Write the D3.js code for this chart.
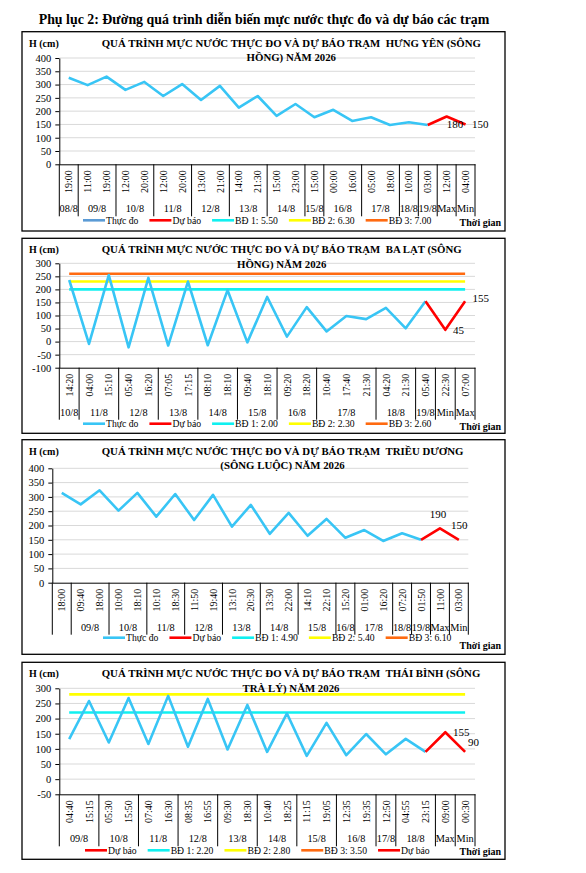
<!DOCTYPE html>
<html><head><meta charset="utf-8">
<script src="https://cdn.jsdelivr.net/npm/d3@7"></script>
<style>body{margin:0;background:#fff}svg{display:block}svg text{font-family:'Liberation Serif','Times New Roman',serif}</style>
</head><body><svg id="c" width="586" height="873"></svg>
<script>
// ---------------- DATA ----------------
const mainTitle = "Phụ lục 2: Đường quá trình diễn biến mực nước thực đo và dự báo các trạm";

// Hưng Yên
const hyTitle = ["QUÁ TRÌNH MỰC NƯỚC THỰC ĐO VÀ DỰ BÁO TRẠM  HƯNG YÊN (SÔNG", "HỒNG) NĂM 2026"];
const hyTimes = ["19:00","11:00","19:00","12:00","20:00","12:00","20:00","13:00","21:00","14:00","21:30","15:00","23:00","15:00","00:00","16:00","05:00","18:00","10:00","03:00","12:00","04:00"];
const hyDates = ["08/8","09/8","09/8","10/8","10/8","11/8","11/8","12/8","12/8","13/8","13/8","14/8","14/8","15/8","16/8","16/8","17/8","17/8","18/8","19/8","Max","Min"];
const hyObserved = [326,298,330,280,310,257,302,242,295,213,257,182,227,177,205,163,177,148,158,148,null,null];
const hyForecast = [null,null,null,null,null,null,null,null,null,null,null,null,null,null,null,null,null,null,null,148,180,150];
const hyAlarms = [5.50, 6.30, 7.00];
const hyTicks = [0,50,100,150,200,250,300,350,400];
const hyLegend = ["obs","fc","bd1","bd2","bd3"];

// Ba Lạt
const blTitle = ["QUÁ TRÌNH MỰC NƯỚC THỰC ĐO VÀ DỰ BÁO TRẠM  BA LẠT (SÔNG", "HỒNG) NĂM 2026"];
const blTimes = ["14:20","04:00","15:10","05:40","16:20","07:05","17:15","08:10","18:10","09:40","18:10","09:20","18:20","10:40","17:40","21:30","04:20","21:30","05:40","22:30","07:00"];
const blDates = ["10/8","11/8","11/8","12/8","12/8","13/8","13/8","14/8","14/8","15/8","15/8","16/8","16/8","17/8","17/8","17/8","18/8","18/8","19/8","Min","Max"];
const blObserved = [236,-9,255,-22,244,-15,230,-14,197,-3,171,19,132,39,98,86,129,51,155,null,null];
const blForecast = [null,null,null,null,null,null,null,null,null,null,null,null,null,null,null,null,null,null,155,45,155];
const blAlarms = [2.00, 2.30, 2.60];
const blTicks = [-100,-50,0,50,100,150,200,250,300];
const blLegend = ["obs","fc","bd1","bd2","bd3"];

// Triều Dương
const tdTitle = ["QUÁ TRÌNH MỰC NƯỚC THỰC ĐO VÀ DỰ BÁO TRẠM  TRIỀU DƯƠNG", "(SÔNG LUỘC) NĂM 2026"];
const tdTimes = ["18:00","09:40","18:00","10:00","18:10","10:10","18:30","11:50","19:40","13:10","20:30","13:30","22:00","14:10","22:10","15:20","01:00","16:20","07:20","01:50","11:00","03:00"];
const tdDates = ["","09/8","09/8","10/8","10/8","11/8","11/8","12/8","12/8","13/8","13/8","14/8","14/8","15/8","15/8","16/8","17/8","17/8","18/8","19/8","Max","Min"];
const tdObserved = [314,274,323,252,314,231,310,219,307,196,272,171,244,164,223,157,184,146,173,150,null,null];
const tdForecast = [null,null,null,null,null,null,null,null,null,null,null,null,null,null,null,null,null,null,null,150,190,150];
const tdAlarms = [4.90, 5.40, 6.10];
const tdTicks = [0,50,100,150,200,250,300,350,400];
const tdLegend = ["obs","fc","bd1","bd2","bd3"];

// Thái Bình
const tbTitle = ["QUÁ TRÌNH MỰC NƯỚC THỰC ĐO VÀ DỰ BÁO TRẠM  THÁI BÌNH (SÔNG", "TRÀ LÝ) NĂM 2026"];
const tbTimes = ["04:40","15:15","05:30","15:50","07:40","16:30","08:35","16:55","09:30","18:30","10:40","18:25","11:15","19:05","12:35","19:35","12:50","04:55","23:15","09:00","00:30"];
const tbDates = ["09/8","09/8","10/8","10/8","11/8","11/8","12/8","12/8","13/8","13/8","14/8","14/8","15/8","15/8","16/8","16/8","17/8","18/8","18/8","Max","Min"];
const tbObserved = [132,258,121,268,116,275,107,265,98,245,90,217,77,186,79,149,82,133,90,null,null];
const tbForecast = [null,null,null,null,null,null,null,null,null,null,null,null,null,null,null,null,null,null,90,155,90];
const tbAlarms = [2.20, 2.80, 3.50];
const tbTicks = [-50,0,50,100,150,200,250,300];
const tbLegend = ["fc","bd1","bd2","bd3","fc"];

// ---------------- STYLE / LAYOUT ----------------
const SERIF = "'Liberation Serif','Times New Roman',serif";
const C = {obs:"#38C5F5", fc:"#FF0000", bd1:"#10F0F0", bd2:"#FFFF00", bd3:"#FF6A10", grid:"#D9D9D9"};

const panels = [
  {title:hyTitle, times:hyTimes, dates:hyDates, obs:hyObserved, fc:hyForecast, alarms:hyAlarms, ticks:hyTicks, legend:hyLegend,
   box:[31.7,231], x:[59.3,475], top:58, axis:164.3, legX:83, legObsColor:"#5B9BD5", legDy:56, tgDy:62,
   labels:[{i:20,dx:0,dy:11.5,a:"start"},{i:21,dx:6.5,dy:3.7,a:"start"}]},
  {title:blTitle, times:blTimes, dates:blDates, obs:blObserved, fc:blForecast, alarms:blAlarms, ticks:blTicks, legend:blLegend,
   box:[238.3,433.3], x:[59.3,475], top:263.3, axis:367.7, legX:83, legObsColor:C.obs, legDy:56, tgDy:62,
   labels:[{i:19,dx:7.7,dy:3.7,a:"start"},{i:20,dx:7.5,dy:1.2,a:"start"}]},
  {title:tdTitle, times:tdTimes, dates:tdDates, obs:tdObserved, fc:tdForecast, alarms:tdAlarms, ticks:tdTicks, legend:tdLegend,
   box:[439.7,654.3], x:[52.3,468.3], top:468.3, axis:582.7, legX:103, legObsColor:C.obs, legDy:55, tgDy:66,
   labels:[{i:20,dx:-2,dy:-10.7,a:"middle"},{i:21,dx:0.5,dy:-10.5,a:"middle"}]},
  {title:tbTitle, times:tbTimes, dates:tbDates, obs:tbObserved, fc:tbForecast, alarms:tbAlarms, ticks:tbTicks, legend:tbLegend,
   box:[662.3,859.3], x:[59.3,475], top:688.3, axis:794.3, legX:85, legObsColor:C.obs, legDy:56, tgDy:61,
   labels:[{i:19,dx:7.7,dy:3.7,a:"start"},{i:20,dx:3,dy:-6,a:"start"}]}
];

const svg = d3.select("#c");

svg.append("text").attr("x",264).attr("y",24).attr("text-anchor","middle")
  .attr("font-family",SERIF).attr("font-weight","bold").attr("font-size",13.9).text(mainTitle);

function drawPanel(p){
  const g = svg.append("g");
  g.append("rect").attr("x",22).attr("y",p.box[0]).attr("width",483).attr("height",p.box[1]-p.box[0])
    .attr("fill","none").attr("stroke","#000").attr("stroke-width",1.3);

  const n = p.times.length;
  const x = d3.scaleBand().domain(d3.range(n)).range(p.x).padding(0);
  const bw = x.bandwidth();
  const cx = i => x(i) + bw/2;
  const y = d3.scaleLinear().domain([p.ticks[0], p.ticks[p.ticks.length-1]]).range([p.axis, p.top]);

  // gridlines
  g.append("g").selectAll("line").data(p.ticks.slice(1)).join("line")
    .attr("x1",p.x[0]).attr("x2",p.x[1]).attr("y1",d=>y(d)).attr("y2",d=>y(d))
    .attr("stroke",C.grid).attr("stroke-width",1);

  // y axis
  const ya = g.append("g").attr("transform",`translate(${p.x[0]},0)`)
    .call(d3.axisLeft(y).tickValues(p.ticks).tickSize(4).tickSizeOuter(0).tickPadding(4).tickFormat(d=>String(d)));
  ya.attr("font-family",SERIF).attr("font-size",10.5);
  ya.selectAll("path,line").attr("stroke","#000");
  ya.selectAll("text").attr("fill","#000");

  // x axis (time labels)
  const xa = g.append("g").attr("transform",`translate(0,${p.axis})`)
    .call(d3.axisBottom(x).tickSize(0).tickSizeOuter(0).tickFormat(i=>p.times[i]));
  xa.attr("font-family",SERIF).attr("font-size",10);
  xa.select(".domain").attr("stroke","#000").attr("stroke-width",1);
  xa.selectAll("text").attr("fill","#000").attr("y",null).attr("dy",null).attr("x",null)
    .attr("text-anchor","end").attr("transform","translate(3.6,6) rotate(-90)");

  // groups
  const groups = [];
  p.dates.forEach((d,i)=>{
    if(groups.length && groups[groups.length-1].label===d && i>0) groups[groups.length-1].end=i;
    else groups.push({label:d,start:i,end:i});
  });
  const sepY2 = p.axis+52;
  const bounds = [p.x[0]].concat(groups.map(gr=>x(gr.end)+bw));
  g.append("g").selectAll("line").data(bounds).join("line")
    .attr("x1",d=>d).attr("x2",d=>d).attr("y1",p.axis).attr("y2",sepY2)
    .attr("stroke","#000").attr("stroke-width",1);
  g.append("g").selectAll("text").data(groups).join("text")
    .attr("x",gr=>(x(gr.start)+x(gr.end)+bw)/2).attr("y",p.axis+48)
    .attr("text-anchor","middle").attr("font-family",SERIF).attr("font-size",10.3)
    .text(gr=>gr.label);

  // alarm lines
  const alarmKeys = ["bd1","bd2","bd3"];
  p.alarms.forEach((a,k)=>{
    const v = a*100;
    if(v>=p.ticks[0] && v<=p.ticks[p.ticks.length-1]){
      g.append("line").attr("x1",cx(0)).attr("x2",cx(n-1)).attr("y1",y(v)).attr("y2",y(v))
        .attr("stroke",C[alarmKeys[k]]).attr("stroke-width",2.6);
    }
  });

  const line = d3.line().defined(d=>d!=null).x((d,i)=>cx(i)).y(d=>y(d));
  g.append("path").datum(p.obs).attr("d",line).attr("fill","none").attr("stroke",C.obs)
    .attr("stroke-width",2.6).attr("stroke-linejoin","round");
  g.append("path").datum(p.fc).attr("d",line).attr("fill","none").attr("stroke",C.fc)
    .attr("stroke-width",2.6).attr("stroke-linejoin","round");

  // data labels
  g.append("g").selectAll("text").data(p.labels).join("text")
    .attr("x",l=>cx(l.i)+l.dx).attr("y",l=>y(p.fc[l.i])+l.dy).attr("text-anchor",l=>l.a)
    .attr("font-family",SERIF).attr("font-size",11).text(l=>p.fc[l.i]);

  // titles
  g.append("text").attr("x",29).attr("y",p.box[0]+15).attr("font-family",SERIF)
    .attr("font-weight","bold").attr("font-size",10).text("H (cm)");
  const t1 = g.append("text").attr("x",101.7).attr("y",p.box[0]+15).attr("font-family",SERIF)
    .attr("font-weight","bold").attr("font-size",10.8).style("white-space","pre").text(p.title[0]);
  const w1 = t1.node().getComputedTextLength();
  g.append("text").attr("x",101.7+w1/2).attr("y",p.box[0]+29.5).attr("text-anchor","middle").attr("font-family",SERIF)
    .attr("font-weight","bold").attr("font-size",10.8).text(p.title[1]);

  // legend
  const names = {obs:"Thực đo", fc:"Dự báo",
    bd1:"BĐ 1: "+p.alarms[0].toFixed(2), bd2:"BĐ 2: "+p.alarms[1].toFixed(2), bd3:"BĐ 3: "+p.alarms[2].toFixed(2)};
  let lx = p.legX; const ly = p.axis+p.legDy;
  p.legend.forEach(k=>{
    g.append("line").attr("x1",lx).attr("x2",lx+22).attr("y1",ly).attr("y2",ly)
      .attr("stroke", k==="obs"? p.legObsColor : C[k]).attr("stroke-width",2.6);
    const t = g.append("text").attr("x",lx+23).attr("y",ly+3.5).attr("font-family",SERIF)
      .attr("font-size",9.7).text(names[k]);
    lx += 23 + t.node().getComputedTextLength() + 11;
  });
  g.append("text").attr("x",501).attr("y",p.axis+p.tgDy).attr("text-anchor","end").attr("font-family",SERIF)
    .attr("font-weight","bold").attr("font-size",10).text("Thời gian");
}
panels.forEach(drawPanel);
</script></body></html>
